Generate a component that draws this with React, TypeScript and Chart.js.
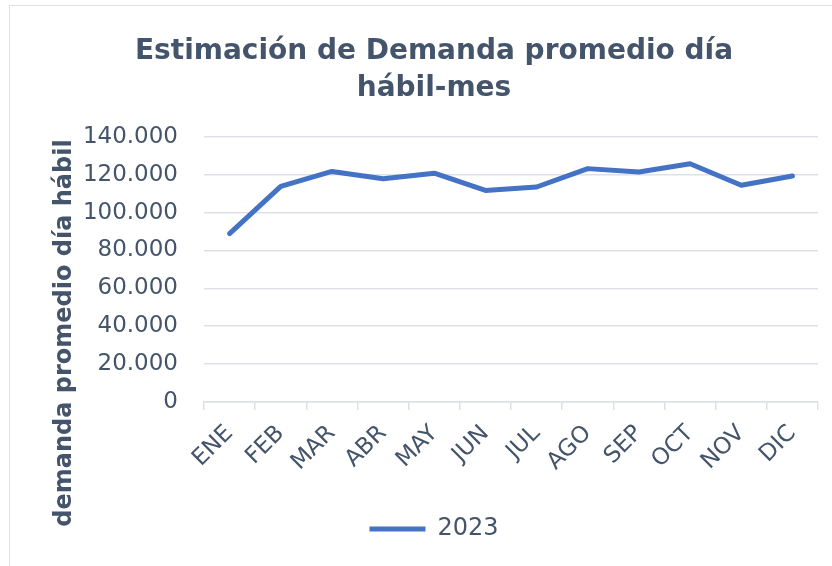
import React, { useEffect, useRef } from "react";
import { Chart, registerables } from "chart.js";

Chart.register(...registerables);

const months = ["ENE", "FEB", "MAR", "ABR", "MAY", "JUN", "JUL", "AGO", "SEP", "OCT", "NOV", "DIC"];
const demanda2023 = [88900, 113800, 121700, 117900, 120800, 111700, 113500, 123200, 121400, 125800, 114400, 119300];
const yTickValues = [0, 20000, 40000, 60000, 80000, 100000, 120000, 140000];
const titleLines = ["Estimación de Demanda promedio día", "hábil-mes"];
const yAxisTitle = "demanda promedio día hábil";
const seriesName = "2023";

const TEXT = "#44546A";
const GRID = "#DDE1E7";
const LINE = "#4472C4";
const FONT = "'DejaVu Sans', sans-serif";

const fmt = (v: number) => String(v).replace(/\B(?=(\d{3})+(?!\d))/g, ".");

const yTitlePlugin = {
  id: "yTitlePlugin",
  afterDraw(chart: any) {
    const ctx = chart.ctx;
    ctx.save();
    ctx.translate(65, 333);
    ctx.rotate(-Math.PI / 2);
    ctx.font = `bold 24px ${FONT}`;
    ctx.fillStyle = TEXT;
    ctx.textAlign = "center";
    ctx.textBaseline = "middle";
    ctx.fillText(yAxisTitle, 0, 0);
    ctx.restore();
  },
};

export default function App() {
  const ref = useRef<HTMLCanvasElement | null>(null);

  useEffect(() => {
    document.body.style.margin = "0";
    const canvas = ref.current;
    if (!canvas) return;
    const chart = new Chart(canvas, {
      type: "line",
      data: {
        labels: months,
        datasets: [
          {
            label: seriesName,
            data: demanda2023,
            borderColor: LINE,
            backgroundColor: LINE,
            borderWidth: 5,
            pointRadius: 0,
            pointHoverRadius: 0,
            tension: 0,
            borderCapStyle: "round",
            borderJoinStyle: "round",
          },
        ],
      },
      options: {
        responsive: false,
        animation: false,
        events: [],
        layout: { padding: { left: 50, right: 14, top: 0, bottom: 15 } },
        plugins: {
          tooltip: { enabled: false },
          title: {
            display: true,
            text: titleLines,
            color: TEXT,
            font: { family: FONT, size: 28, weight: "bold", lineHeight: 1.3 },
            padding: { top: 34, bottom: 30 },
          },
          legend: {
            display: true,
            position: "bottom",
            labels: {
              usePointStyle: true,
              pointStyle: "line",
              pointStyleWidth: 56,
              color: TEXT,
              font: { family: FONT, size: 24 },
              padding: 10,
            },
          },
        },
        scales: {
          x: {
            offset: true,
            grid: {
              offset: true,
              drawOnChartArea: false,
              drawTicks: true,
              tickLength: 8,
              color: GRID,
              lineWidth: 1.5,
            },
            border: { display: true, color: GRID, width: 1.5 },
            ticks: {
              color: TEXT,
              font: { family: FONT, size: 23 },
              minRotation: 45,
              maxRotation: 45,
              autoSkip: false,
              padding: 10,
            },
            afterFit: (scale: any) => {
              scale.height = 105;
            },
          },
          y: {
            min: 0,
            max: 140000,
            afterBuildTicks: (scale: any) => {
              scale.ticks = yTickValues.map((v) => ({ value: v }));
            },
            grid: { color: GRID, lineWidth: 1.5, drawTicks: false },
            border: { display: false },
            ticks: {
              color: TEXT,
              font: { family: FONT, size: 23 },
              padding: 26,
              callback: (v: any) => fmt(Number(v)),
            },
            afterFit: (scale: any) => {
              scale.width = 154;
            },
          },
        },
      },
      plugins: [yTitlePlugin],
    } as any);
    return () => chart.destroy();
  }, []);

  return (
    <div style={{ position: "relative", width: 832, height: 566, overflow: "hidden", background: "#fff" }}>
      <div
        style={{
          position: "absolute",
          left: 9,
          top: 5,
          width: 900,
          height: 700,
          border: "1.5px solid #DDE1E7",
          boxSizing: "border-box",
        }}
      />
      <canvas ref={ref} width={832} height={566} style={{ position: "absolute", left: 0, top: 0 }} />
    </div>
  );
}
